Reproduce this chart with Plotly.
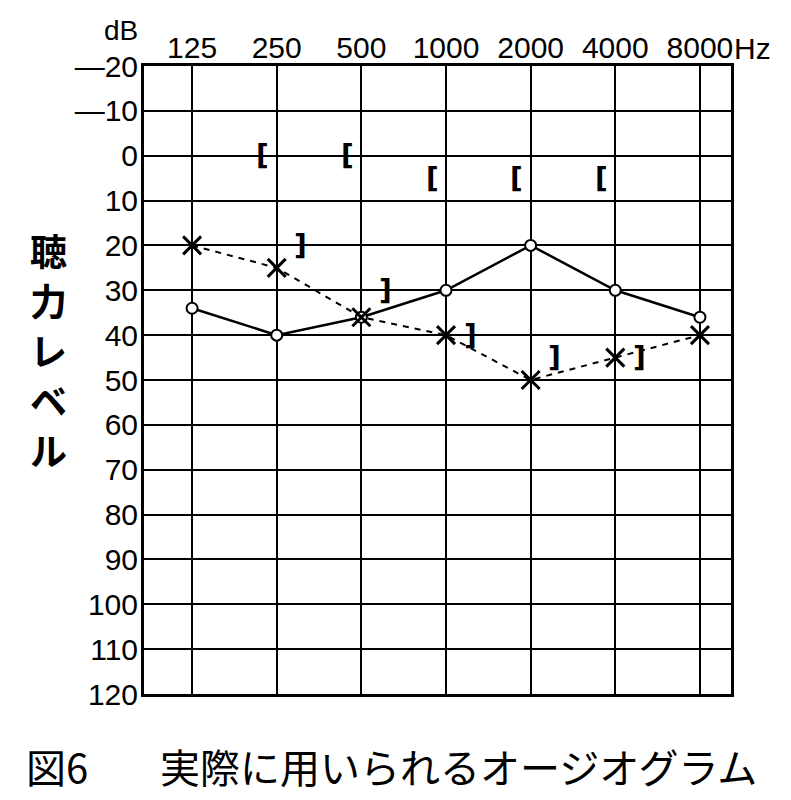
import math
import plotly.graph_objects as go

# 周波数 (Hz) と聴力レベル (dB)
freqs = [125, 250, 500, 1000, 2000, 4000, 8000]
freq_labels = ['125', '250', '500', '1000', '2000', '4000', '8000']

air_right = [34, 40, 36, 30, 20, 30, 36]      # ○ 実線
air_left = [20, 25, 36, 40, 50, 45, 40]       # × 破線

bone_right_freqs = [250, 500, 1000, 2000, 4000]
bone_right = [0, 0, 5, 5, 5]                  # [
bone_left_freqs = [250, 500, 1000, 2000, 4000]
bone_left = [20, 30, 40, 45, 45]              # ]

db_ticks = list(range(-20, 130, 10))
db_labels = ['—20', '—10'] + [str(v) for v in range(0, 130, 10)]

y_title = '聴力レベル'
caption_no = '図6'
caption = '実際に用いられるオージオグラム'

num_font = 'Liberation Sans, Arial, sans-serif'
jp_font = 'Noto Sans CJK JP, sans-serif'

# ページの余白 (body margin 8px) を差し引く
PAD = 8
W, H = 791 - PAD, 800 - PAD
L, T, B = 144 - PAD, 66 - PAD, 106
plot_h = H - T - B

fig = go.Figure()

fig.add_trace(go.Scatter(
    x=freqs, y=air_right, mode='lines+markers',
    line=dict(color='black', width=2.5),
    marker=dict(symbol='circle', size=11, color='white',
                line=dict(color='black', width=2)),
))

fig.add_trace(go.Scatter(
    x=freqs, y=air_left, mode='lines+markers',
    line=dict(color='black', width=2, dash='6px,6px'),
    marker=dict(symbol='x-thin-open', size=18,
                line=dict(color='black', width=3)),
))

# 骨導の括弧記号
for f, v in zip(bone_right_freqs, bone_right):
    fig.add_annotation(x=math.log10(f), y=v, xref='x', yref='y', text='[',
                       showarrow=False, xshift=-14,
                       font=dict(family='DejaVu Sans', size=28, color='black', weight='bold'))
for f, v in zip(bone_left_freqs, bone_left):
    fig.add_annotation(x=math.log10(f), y=v, xref='x', yref='y', text=']',
                       showarrow=False, xshift=24,
                       font=dict(family='DejaVu Sans', size=28, color='black', weight='bold'))

x_lo = math.log10(125) - 0.568 * math.log10(2)
x_hi = math.log10(8000) + 0.367 * math.log10(2)

fig.update_xaxes(
    type='log', range=[x_lo, x_hi], side='top',
    tickvals=freqs, ticktext=freq_labels, ticks='', ticklabelstandoff=-7,
    tickfont=dict(family=num_font, size=30, color='black'),
    showgrid=True, gridcolor='black', gridwidth=2,
    showline=True, linecolor='black', linewidth=3, mirror=True,
    zeroline=False,
)

fig.update_yaxes(
    range=[120, -20], tickvals=db_ticks, ticktext=db_labels, ticks='',
    ticklabelstandoff=-3,
    tickfont=dict(family=num_font, size=30, color='black'),
    showgrid=True, gridcolor='black', gridwidth=2,
    showline=True, linecolor='black', linewidth=3, mirror=True,
    zeroline=False,
)

fig.add_annotation(text='dB', xref='paper', yref='paper', x=0, y=1,
                   xanchor='right', yanchor='middle', xshift=-4, yshift=36,
                   showarrow=False, font=dict(family=num_font, size=28, color='black'))
fig.add_annotation(text='Hz', xref='paper', yref='paper', x=1, y=1,
                   xanchor='left', yanchor='middle', xshift=1, yshift=18,
                   showarrow=False, font=dict(family=num_font, size=30, color='black'))

for i, ch in enumerate(y_title):
    py = 250 + 50 * i - 66
    fig.add_annotation(text=ch, xref='paper', yref='paper',
                       x=0, y=1 - py / plot_h, xanchor='center', yanchor='middle',
                       xshift=-96, showarrow=False,
                       font=dict(family=jp_font, size=37, color='black', weight='bold'))

fig.add_annotation(text=caption_no, xref='paper', yref='paper', x=0, y=0,
                   xanchor='left', yanchor='middle', xshift=-120, yshift=-72,
                   showarrow=False, font=dict(family=jp_font, size=40, color='black'))
fig.add_annotation(text=caption, xref='paper', yref='paper',
                   x=0, y=0, xanchor='left', yanchor='middle', xshift=14, yshift=-72,
                   showarrow=False, font=dict(family=jp_font, size=40, color='black'))

fig.update_layout(
    width=W, height=H,
    margin=dict(l=L, r=60, t=T, b=B),
    paper_bgcolor='white', plot_bgcolor='white',
    showlegend=False,
)

fig.write_html('out.html')
